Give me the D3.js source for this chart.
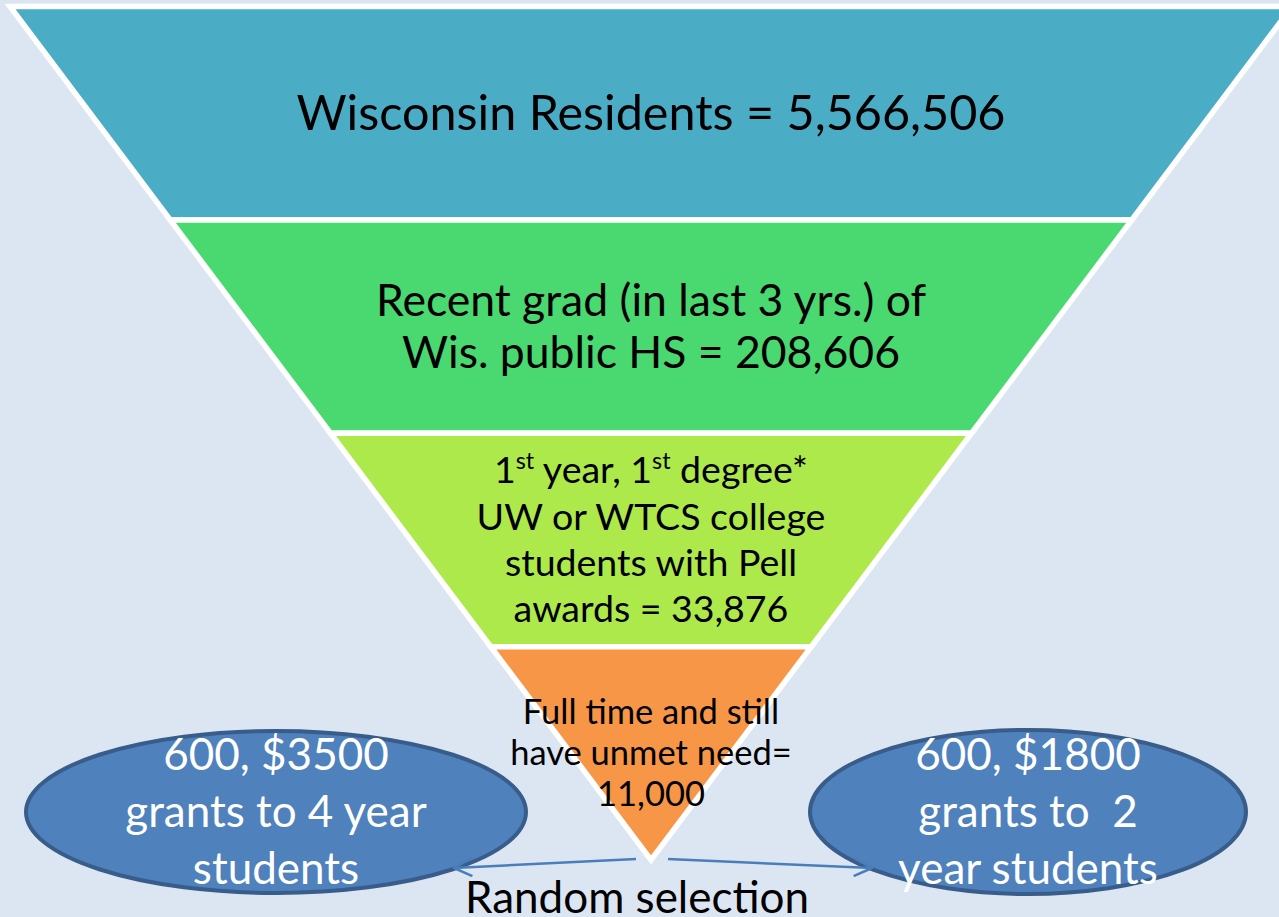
<!DOCTYPE html>
<html>
<head>
<meta charset="utf-8">
<script src="https://cdn.jsdelivr.net/npm/d3@7"></script>
<style>
  body { margin: 0; background: #dce6f2; overflow: hidden; }
  svg { display: block; }
  text { font-family: Lato, "Open Sans", sans-serif; white-space: pre; }
</style>
</head>
<body>
<script>
// funnel stages, top to bottom
var stageNames = ["Wisconsin Residents", "Recent grad", "Pell students", "Unmet need"];
var stageCounts = [5566506, 208606, 33876, 11000];
var stageLines = [
    ["Wisconsin Residents = 5,566,506"],
    ["Recent grad (in last 3 yrs.) of", "Wis. public HS = 208,606"],
    ["1^st year, 1^st degree*", "UW or WTCS college", "students with Pell", "awards = 33,876"],
    ["Full time and still", "have unmet need=", "11,000"]
];
var stageColors = ["#4bacc6", "#4ad870", "#ade94a", "#f79646"];

// grant groups (ellipses)
var grantNames = ["4 year", "2 year"];
var grantCounts = [600, 600];
var grantAmounts = [3500, 1800];
var grantLines = [
    ["600, $3500", "grants to 4 year", "students"],
    ["600, $1800", "grants to  2", "year students"]
];

var W = 1279, H = 917;
var cx = 651;

var svg = d3.select("body").append("svg")
    .attr("width", W)
    .attr("height", H);

var y = d3.scaleLinear().domain([0, stageNames.length]).range([6.5, 860]);
var halfW = d3.scaleLinear().domain([y(0), y(stageNames.length)]).range([641, 0]);

var fontSizes = [48.5, 44.5, 37.5, 34.5];
var lineHeights = [52, 52, 46.3, 41];

var stage = svg.selectAll("g.stage")
    .data(stageNames)
    .enter().append("g")
    .attr("class", "stage");

stage.append("path")
    .attr("d", function(d, i) {
        var y0 = y(i), y1 = y(i + 1);
        var pts = [[cx - halfW(y0), y0], [cx + halfW(y0), y0]];
        if (halfW(y1) > 0.5) {
            pts.push([cx + halfW(y1), y1]);
            pts.push([cx - halfW(y1), y1]);
        } else {
            pts.push([cx, y1]);
        }
        return d3.line()(pts) + "Z";
    })
    .attr("fill", function(d, i) { return stageColors[i]; })
    .attr("stroke", "#fff")
    .attr("stroke-width", 5.5)
    .attr("stroke-linejoin", "miter");

stage.each(function(d, i) {
    var g = d3.select(this);
    var lines = stageLines[i];
    var mid = (y(i) + y(i + 1)) / 2;
    lines.forEach(function(line, j) {
        var t = g.append("text")
            .attr("x", cx)
            .attr("y", mid + (j - (lines.length - 1) / 2) * lineHeights[i])
            .attr("dy", "0.34em")
            .attr("text-anchor", "middle")
            .attr("font-size", fontSizes[i])
            .attr("fill", "#000");
        // "^st" marks a superscript
        line.split(/(\^st)/).forEach(function(part) {
            if (part === "^st") {
                t.append("tspan").text("st")
                    .attr("font-size", fontSizes[i] * 0.62)
                    .attr("baseline-shift", "super");
            } else if (part.length) {
                t.append("tspan").text(part);
            }
        });
    });
});

// arrows from the funnel tip to each ellipse
svg.append("defs").append("marker")
    .attr("id", "head")
    .attr("markerUnits", "userSpaceOnUse")
    .attr("viewBox", "0 0 20 20")
    .attr("refX", 19).attr("refY", 10)
    .attr("markerWidth", 20).attr("markerHeight", 20)
    .attr("orient", "auto")
    .append("path")
    .attr("d", "M1,1 L19,10 L1,19")
    .attr("fill", "none")
    .attr("stroke", "#4a7ebb")
    .attr("stroke-width", 2.5);

var ellipses = [
    { cx: 276, cy: 812, rx: 250, ry: 81 },
    { cx: 1028, cy: 812, rx: 218, ry: 82 }
];

var grant = svg.selectAll("g.grant")
    .data(grantNames)
    .enter().append("g")
    .attr("class", "grant");

grant.append("ellipse")
    .attr("cx", function(d, i) { return ellipses[i].cx; })
    .attr("cy", function(d, i) { return ellipses[i].cy; })
    .attr("rx", function(d, i) { return ellipses[i].rx; })
    .attr("ry", function(d, i) { return ellipses[i].ry; })
    .attr("fill", "#4f81bd")
    .attr("stroke", "#385d8a")
    .attr("stroke-width", 4);

grant.each(function(d, i) {
    var g = d3.select(this);
    grantLines[i].forEach(function(line, j) {
        g.append("text")
            .attr("x", ellipses[i].cx)
            .attr("y", ellipses[i].cy + (j - 1) * 57)
            .attr("dy", "0.34em")
            .attr("text-anchor", "middle")
            .attr("font-size", 44)
            .attr("fill", "#fff")
            .text(line);
    });
});

var arrows = [
    [[636, 859], [454, 868]],
    [[668, 859], [872, 868]]
];
svg.selectAll("line.arrow")
    .data(arrows)
    .enter().append("line")
    .attr("class", "arrow")
    .attr("x1", function(d) { return d[0][0]; })
    .attr("y1", function(d) { return d[0][1]; })
    .attr("x2", function(d) { return d[1][0]; })
    .attr("y2", function(d) { return d[1][1]; })
    .attr("stroke", "#4a7ebb")
    .attr("stroke-width", 2.5)
    .attr("marker-end", "url(#head)");

svg.append("text")
    .attr("x", 637)
    .attr("y", 913)
    .attr("text-anchor", "middle")
    .attr("font-size", 44)
    .attr("fill", "#000")
    .text("Random selection");
</script>
</body>
</html>
